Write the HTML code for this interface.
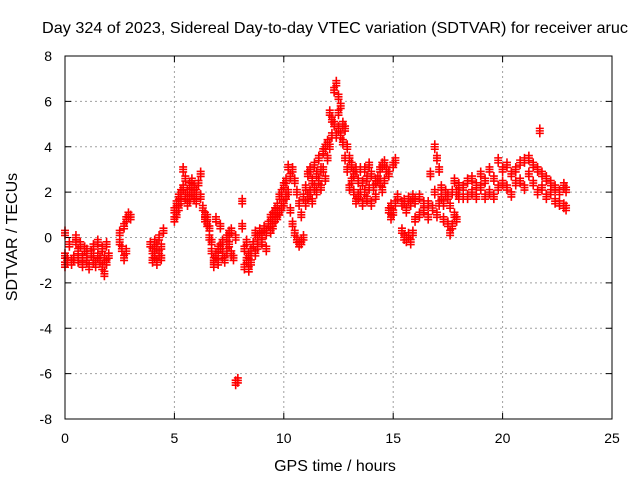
<!DOCTYPE html>
<html><head><meta charset="utf-8"><style>
body{margin:0;background:#fff;}
svg{display:block;font-family:"Liberation Sans",sans-serif;}
</style></head><body>
<svg id="chart" width="640" height="480" viewBox="0 0 640 480">
<text x="42" y="33" font-size="16" textLength="586" lengthAdjust="spacingAndGlyphs" fill="#000">Day 324 of 2023, Sidereal Day-to-day VTEC variation (SDTVAR) for receiver aruc</text>
<g id="grid"></g>
<g id="ticks"></g>
<g id="marks"></g>
<rect x="65" y="56" width="547" height="363" fill="none" stroke="#000" stroke-width="1"/>
<text x="335" y="471" font-size="16" text-anchor="middle">GPS time / hours</text>
<text transform="translate(17,237) rotate(-90)" font-size="16" text-anchor="middle">SDTVAR / TECUs</text>
</svg>
<script>
const xTicks=[0,5,10,15,20,25];
const yTicks=[-8,-6,-4,-2,0,2,4,6,8];
const hours=[0.0,0.1,0.2,0.3,0.4,0.5,0.6,0.7,0.8,0.9,1.0,1.1,1.2,1.3,1.4,1.5,1.6,1.7,1.8,1.9,2.0,
2.5,2.6,2.7,2.8,2.9,3.0,3.9,4.0,4.1,4.2,4.3,4.4,4.5,
5.0,5.1,5.2,5.3,5.4,5.5,5.6,5.7,5.8,5.9,6.0,6.1,6.2,6.3,6.4,
6.5,6.6,6.7,6.8,6.9,7.0,7.1,7.2,7.3,7.4,7.5,7.6,7.7,7.8,7.9,
8.1,8.2,8.3,8.4,8.5,8.6,8.7,8.8,8.9,9.0,9.1,9.2,9.3,9.4,9.5,9.6,9.7,9.8,9.9,10.0,
10.1,10.2,10.3,10.4,10.5,10.6,10.7,10.8,10.9,11.0,11.1,11.2,11.3,11.4,11.5,11.6,11.7,11.8,11.9,12.0,
12.1,12.2,12.3,12.4,12.5,12.6,12.7,12.8,12.9,13.0,13.1,13.2,13.3,13.4,13.5,13.6,13.7,13.8,13.9,14.0,
14.1,14.2,14.3,14.4,14.5,14.6,14.7,14.8,14.9,15.0,15.1,15.2,15.4,15.5,15.6,15.7,15.8,15.9,16.0,
16.2,16.4,16.6,16.7,16.8,16.9,17.0,17.1,17.2,17.3,17.4,17.5,17.6,17.7,17.8,17.9,18.0,
18.2,18.4,18.6,18.8,19.0,19.2,19.4,19.6,19.8,20.0,20.2,20.4,20.6,20.8,21.0,21.2,21.4,21.6,21.7,21.8,
22.0,22.2,22.4,22.6,22.8,22.9];
const values=[[0.2,-0.8,-1.2],[-1.0],[-0.3],[-1.1],[-0.9],[-0.2,0.0],[-0.6,-1.0],[-0.3],[-0.9,-1.2],[-0.5],[-1.0,-0.6],[-1.3],[-0.7],[-1.0,-0.4],[-1.2],[-0.8,-0.2],[-1.0],[-1.3,-0.5],[-1.6,-0.9],[-1.1,-0.3],[-0.8],
[-0.2,0.2],[-0.5],[-0.9,0.5],[-0.6,0.8],[1.0],[0.9],[-0.3],[-0.6,-1.0],[-0.2,-0.8],[-1.1,-0.4],[-0.7,0.0],[-0.4,-0.9],[0.3],
[0.8,1.2],[1.5,1.0],[1.8,1.3],[1.6,2.0],[3.0,2.2],[1.8,2.6],[1.5,2.0],[2.3,1.7],[2.0,2.5],[1.8,2.2],[2.0,1.6],[2.4],[2.8,1.8],[1.3],[0.8,1.0],
[0.6,0.9],[0.4,0.0],[-0.2,-0.6],[-1.0,-1.2],[-0.8,0.8],[-0.5,-1.1],[0.5,-0.4],[-0.8,-0.2],[-1.0],[-0.6,0.0],[0.2,-0.3],[0.3,-0.7],[-0.9],[0.0,-6.4],[-6.3],
[1.6,0.5],[-0.5,-1.3],[-1.0,-0.2],[-1.4,-0.8],[-1.1,-0.6],[-0.3],[0.2,-0.7],[0.0,-0.4],[0.3],[-0.2,0.1],[0.4],[-0.5,0.2],[0.6],[0.9,0.3],[1.0,0.5],[0.8,1.2],[1.4,0.9],[1.8,1.1],[1.3,2.0],[1.5,2.3],
[2.5,1.8],[3.1,2.0],[2.7,1.2],[3.0,0.6],[2.5,0.2],[2.0,-0.1],[1.5,-0.3],[1.0,-0.2],[1.8,0.0],[2.2,1.5],[2.8,1.8],[2.0,3.0],[2.5,1.6],[3.2,2.2],[2.0,2.8],[3.5,2.5],[3.0,2.2],[3.8,3.0],[4.0,2.6],[4.2,3.5],
[5.5,4.0],[5.2,4.5],[6.5,5.0],[6.8,4.5],[6.2,5.5,4.8],[5.8,4.5],[5.0,4.2],[4.8,3.5],[4.0,3.0],[3.5,2.2],[2.5,3.2],[2.0,2.8],[3.0,1.6],[2.5,1.8],[2.0,3.0],[2.4,1.5],[3.0,2.0],[2.6,1.7],[3.2,2.2],[2.8,1.5],
[2.2],[1.8,2.5],[2.6],[2.4,3.0],[3.2,2.1],[3.3,2.5],[3.0],[1.2,2.8],[0.9,1.4],[1.1,3.2],[3.4,1.5],[1.8],[1.5,0.3],[0.0,1.6],[-0.1,1.2],[0.1,1.7],[-0.2,1.5],[0.2,1.8],[1.6,0.8],
[1.0,1.8],[1.2,1.5],[1.5,0.9],[2.8],[1.3],[4.0,2.0],[3.5,1.0],[3.0,1.5],[2.2,1.8],[1.5,0.8],[2.0],[1.8,0.6],[0.2,1.4],[0.5,2.0],[1.0,2.5],[0.8,2.0],[1.8,2.3],
[1.8,2.2],[2.5,1.8],[2.0,2.6],[2.3,1.8],[2.8,2.2],[1.8,2.5],[2.0,3.0],[2.6,1.8],[3.4,2.2],[3.0,2.4],[2.2,3.2],[2.8,1.9],[3.0,2.4],[3.3,2.5],[2.2,3.4],[3.5,2.8],[3.2,2.4],[3.0,2.0],[4.7],[2.8,2.2],
[2.6,1.8],[2.4,2.0],[2.2,1.6],[2.0,1.5],[2.3,1.4],[2.1,1.3]];
const X0=65,X1=612,Y0=419,Y1=56;
const sx=v=>X0+(v-0)/(25-0)*(X1-X0);
const sy=v=>Y0-(v+8)/16*(Y0-Y1);
const NS="http://www.w3.org/2000/svg";
const grid=document.getElementById('grid'),ticks=document.getElementById('ticks'),marks=document.getElementById('marks');
function mk(tag,attrs,parent){const e=document.createElementNS(NS,tag);for(const k in attrs)e.setAttribute(k,attrs[k]);parent.appendChild(e);return e;}
xTicks.forEach(t=>{
  const x=sx(t);
  if(t>0&&t<25){const g=mk('line',{x1:x,x2:x,y1:Y1,y2:Y0,stroke:'#a0a0a0','stroke-dasharray':'2,3'},grid);
  
  }
  mk('line',{x1:x,x2:x,y1:Y0,y2:Y0-6,stroke:'#000'},ticks);
  mk('line',{x1:x,x2:x,y1:Y1,y2:Y1+6,stroke:'#000'},ticks);
  const l=mk('text',{x:x,y:443,'font-size':14,'text-anchor':'middle'},ticks);l.textContent=t;
  
  
});
yTicks.forEach(t=>{
  const y=sy(t);
  if(t>-8&&t<8){const g=mk('line',{x1:X0,x2:X1,y1:y,y2:y,stroke:'#a0a0a0','stroke-dasharray':'2,3'},grid);
  
  }
  mk('line',{x1:X0,x2:X0+6,y1:y,y2:y,stroke:'#000'},ticks);
  mk('line',{x1:X1,x2:X1-6,y1:y,y2:y,stroke:'#000'},ticks);
  const l=mk('text',{x:52,y:y+5,'font-size':14,'text-anchor':'end'},ticks);l.textContent=t;
  
  
});
let d='';
hours.forEach((h,i)=>{(values[i]||[]).forEach(v=>{
  const x=sx(h),y=sy(v);
  for(let k=-1;k<=1;k++){const yy=y+k*2.5;d+=`M${x-4},${yy}h8M${x},${yy-4}v8`;}
});});
const p=mk('path',{d:d,stroke:'#ff0000','stroke-width':1.6,fill:'none'},marks);


</script>
</body></html>
